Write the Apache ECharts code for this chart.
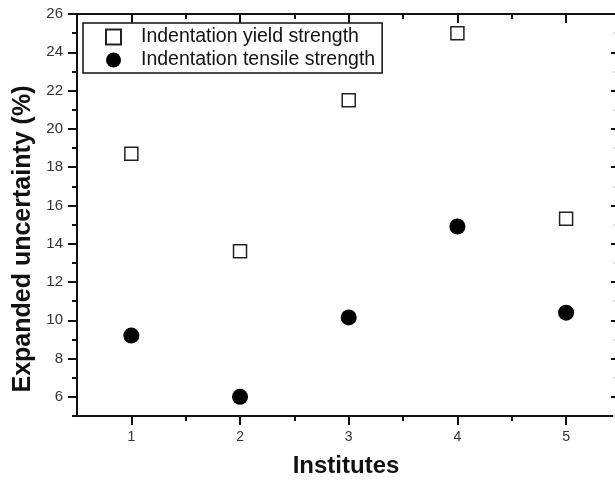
<!DOCTYPE html>
<html><head><meta charset="utf-8">
<script src="https://cdn.jsdelivr.net/npm/echarts@6/dist/echarts.min.js"></script>
<style>html,body{margin:0;padding:0;background:#fff}#c{width:615px;height:483px}</style>
</head><body><div id="c"></div>
<script>
const institutes = [1, 2, 3, 4, 5];
const yieldStrength = [18.7, 13.6, 21.5, 25.0, 15.3];
const tensileStrength = [9.2, 6.0, 10.15, 14.9, 10.4];
const xMajorTicks = [1, 2, 3, 4, 5];
const xMinorTicks = [1.5, 2.5, 3.5, 4.5];
const yMajorTicks = [6, 8, 10, 12, 14, 16, 18, 20, 22, 24, 26];
const yMinorTicks = [5, 7, 9, 11, 13, 15, 17, 19, 21, 23, 25];

const chart = echarts.init(document.getElementById('c'), null, {renderer: 'canvas'});
const lineStyle = {color: '#111', width: 2};
const font = 'Arial, "Liberation Sans", sans-serif';
function xAx(pos, ticks, len, inside, labels, name, line) {
  return {
    type: 'value', position: pos, min: 0.5, max: 5.45, interval: 0.5,
    gridIndex: 0,
    name: name || '', nameLocation: 'middle', nameGap: 38,
    nameTextStyle: {fontFamily: font, fontWeight: 'bold', fontSize: 24, color: '#111'},
    axisLine: {show: line, onZero: false, lineStyle: lineStyle},
    axisTick: {show: true, customValues: ticks, length: len, inside: inside, lineStyle: {color: '#111', width: 2}},
    axisLabel: labels ? {show: true, customValues: xMajorTicks, fontFamily: font, fontSize: 14, color: '#333', margin: 14} : {show: false},
    splitLine: {show: false}
  };
}
function yAx(pos, ticks, len, inside, labels, name, line, tickColor) {
  return {
    type: 'value', position: pos, min: 5, max: 26, interval: 1,
    gridIndex: 0,
    name: name || '', nameLocation: 'middle', nameGap: 38,
    nameTextStyle: {fontFamily: font, fontWeight: 'bold', fontSize: 25, color: '#111', padding: [0, 48, 0, 0]},
    axisLine: {show: line, onZero: false, lineStyle: lineStyle},
    axisTick: {show: true, customValues: ticks, length: len, inside: inside, lineStyle: {color: tickColor || '#111', width: 2}},
    axisLabel: labels ? {show: true, customValues: yMajorTicks, fontFamily: font, fontSize: 15, color: '#333', margin: 14} : {show: false},
    splitLine: {show: false}
  };
}
chart.setOption({
  animation: false,
  backgroundColor: '#fff',
  grid: {left: 77, top: 14, right: 0, bottom: 67, containLabel: false},
  legend: {
    orient: 'vertical', left: 83, top: 23,
    borderColor: '#111', borderWidth: 1.5, borderRadius: 0,
    padding: [4, 7, 3, 22], itemGap: 3, itemWidth: 15, itemHeight: 15,
    textStyle: {fontFamily: font, fontSize: 19.5, lineHeight: 20, color: '#111', padding: [0, 0, 0, 15]},
    data: ['Indentation yield strength', 'Indentation tensile strength']
  },
  xAxis: [
    xAx('bottom', xMajorTicks, 9, false, true, 'Institutes', true),
    xAx('bottom', xMinorTicks, 5, false, false, '', false),
    xAx('top', xMajorTicks, 9, true, false, '', true),
    xAx('top', xMinorTicks, 5, true, false, '', false)
  ],
  yAxis: [
    yAx('left', yMajorTicks, 9, false, true, 'Expanded uncertainty (%)', true),
    yAx('left', yMinorTicks, 5, false, false, '', false),
    yAx('right', yMajorTicks, 4, true, false, '', false),
    yAx('right', yMinorTicks, 2, true, false, '', false, '#ddd')
  ],
  series: [
    {
      name: 'Indentation yield strength', type: 'scatter', xAxisIndex: 0, yAxisIndex: 0,
      symbol: 'rect', symbolSize: 13,
      itemStyle: {color: '#fff', borderColor: '#222', borderWidth: 1.5, opacity: 1},
      data: institutes.map((x, i) => [x, yieldStrength[i]])
    },
    {
      name: 'Indentation tensile strength', type: 'scatter', xAxisIndex: 0, yAxisIndex: 0,
      symbol: 'circle', symbolSize: 16,
      itemStyle: {color: '#000', opacity: 1},
      data: institutes.map((x, i) => [x, tensileStrength[i]])
    }
  ]
});
</script></body></html>
